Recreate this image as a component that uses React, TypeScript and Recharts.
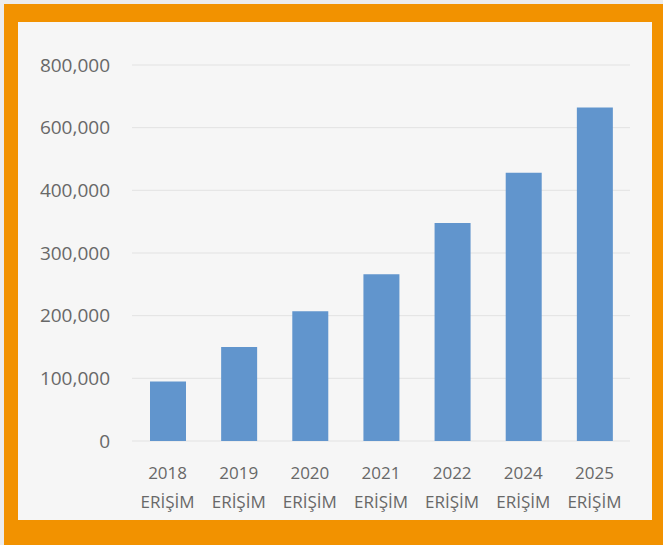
import { BarChart, Bar, XAxis, YAxis, CartesianGrid } from 'recharts';

const YEARS = ['2018', '2019', '2020', '2021', '2022', '2024', '2025'];
const SERIES_LABEL = 'ERİŞİM';
const ERISIM = [95000, 150000, 207000, 266000, 348000, 456000, 664000];
// axis labels are evenly spaced even though the steps are not
const TICK_VALUES = [0, 100000, 200000, 300000, 400000, 600000, 800000];

const BAR_COLOR = '#6195cd';
const TEXT_COLOR = '#686868';
const FONT = '"Open Sans", "DejaVu Sans", sans-serif';

// map a real value to its slot on the uneven axis
function toAxisPos(v: number) {
  for (let i = 1; i < TICK_VALUES.length; i++) {
    if (v <= TICK_VALUES[i]) {
      const lo = TICK_VALUES[i - 1];
      return i - 1 + (v - lo) / (TICK_VALUES[i] - lo);
    }
  }
  return TICK_VALUES.length - 1;
}

const data = YEARS.map((year, i) => ({
  year,
  value: ERISIM[i],
  pos: toAxisPos(ERISIM[i]),
}));

const tickSlots = TICK_VALUES.map((_, i) => i);

function YearTick({ x, y, payload }: { x?: number; y?: number; payload?: { value: string } }) {
  return (
    <text x={x} y={y} textAnchor="middle" fill={TEXT_COLOR} fontSize={17} fontFamily={FONT}>
      <tspan x={x} dy={36}>{payload?.value}</tspan>
      <tspan x={x} dy={29}>{SERIES_LABEL}</tspan>
    </text>
  );
}

export default function App() {
  return (
    <div style={{ position: 'relative', width: 663, height: 545, background: '#ececec', overflow: 'hidden' }}>
      <style>{'body{margin:0}'}</style>
      <div style={{ position: 'absolute', left: 4, top: 4, width: 659, height: 541, background: '#f29200' }} />
      <div style={{ position: 'absolute', left: 18, top: 22, width: 634, height: 498, background: '#f6f6f6' }}>
        <BarChart
          width={634}
          height={498}
          data={data}
          margin={{ top: 43, right: 22, bottom: 18, left: 0 }}
        >
          <CartesianGrid vertical={false} stroke="#e2e2e2" />
          <XAxis
            dataKey="year"
            axisLine={false}
            tickLine={false}
            tickSize={0}
            height={61}
            interval={0}
            tick={<YearTick />}
          />
          <YAxis
            type="number"
            domain={[0, TICK_VALUES.length - 1]}
            ticks={tickSlots}
            axisLine={false}
            tickLine={false}
            tickSize={0}
            tickMargin={22}
            width={114}
            tick={{ fill: TEXT_COLOR, fontSize: 19, fontFamily: FONT }}
            tickFormatter={(i: number) => TICK_VALUES[i].toLocaleString('en-US')}
          />
          <Bar dataKey="pos" fill={BAR_COLOR} barSize={36} isAnimationActive={false} />
        </BarChart>
      </div>
    </div>
  );
}
